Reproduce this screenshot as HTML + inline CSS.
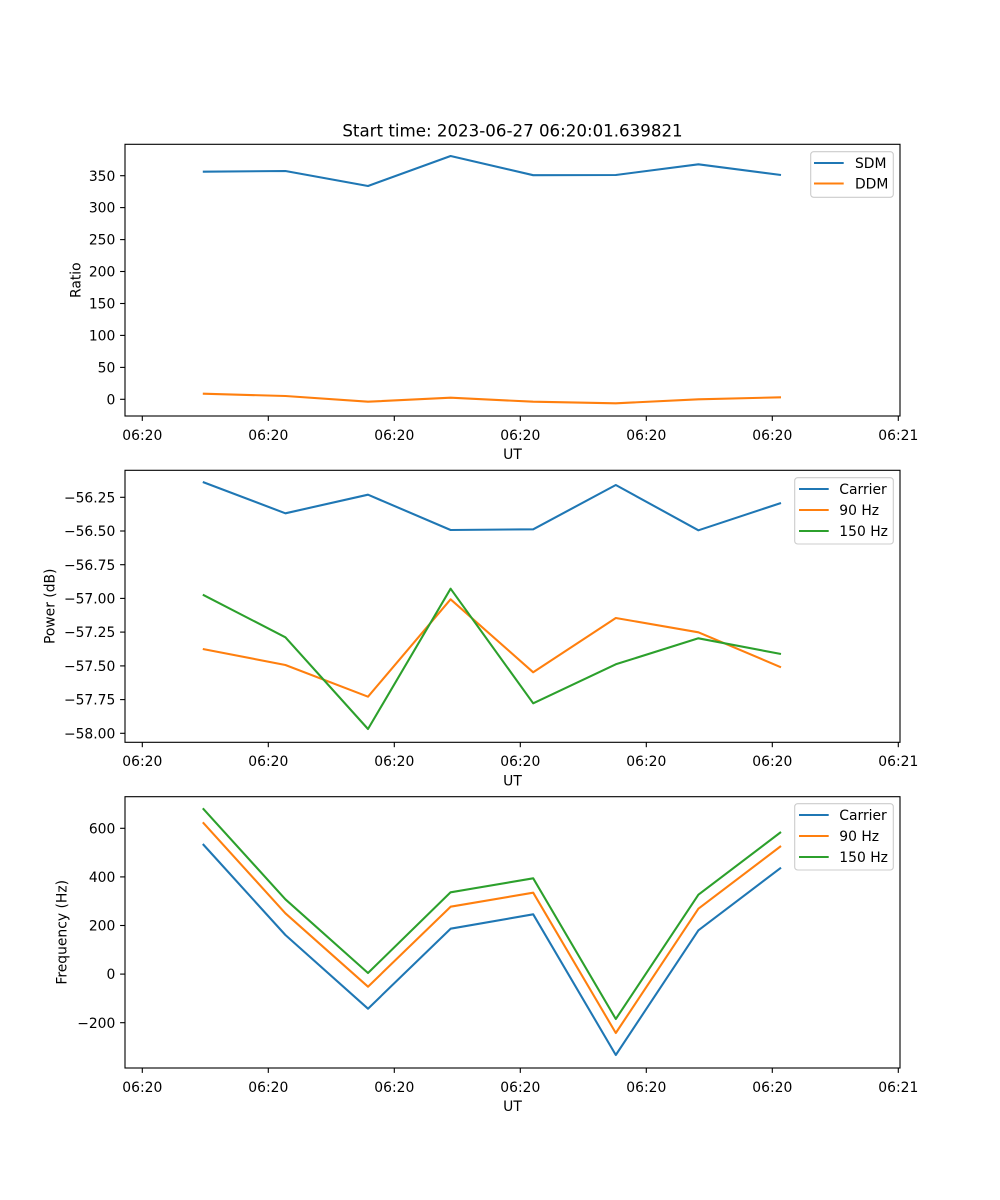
<!DOCTYPE html>
<html><head><meta charset="utf-8"><style>
html,body{margin:0;padding:0;background:#fff;}
svg{display:block;}
text{font-family:"DejaVu Sans","Liberation Sans",sans-serif;fill:#000;}
</style></head><body>
<svg width="1000" height="1200" viewBox="0 0 1000 1200" xmlns="http://www.w3.org/2000/svg">
<rect width="1000" height="1200" fill="#fff"/>
<text x="512.5" y="136.7" font-size="16.67" text-anchor="middle">Start time: 2023-06-27 06:20:01.639821</text>

<!-- ========== Panel 1 ========== -->
<g>
<polyline fill="none" stroke="#1f77b4" stroke-width="2.08" stroke-linejoin="round" points="202.8,171.7 285.4,171 368,186 450.6,156 533.2,175.2 615.8,175 698.4,164.3 781,175"/>
<polyline fill="none" stroke="#ff7f0e" stroke-width="2.08" stroke-linejoin="round" points="202.8,393.7 285.4,396 368,401.7 450.6,397.7 533.2,401.7 615.8,403.3 698.4,399.3 781,397.3"/>
<rect x="125" y="144.3" width="775" height="271.7" fill="none" stroke="#000" stroke-width="1.11"/>
<g stroke="#000" stroke-width="1.11">
<line x1="142.3" y1="416" x2="142.3" y2="420.9"/><line x1="268.3" y1="416" x2="268.3" y2="420.9"/><line x1="394.3" y1="416" x2="394.3" y2="420.9"/><line x1="520.3" y1="416" x2="520.3" y2="420.9"/><line x1="646.3" y1="416" x2="646.3" y2="420.9"/><line x1="772.3" y1="416" x2="772.3" y2="420.9"/><line x1="898.3" y1="416" x2="898.3" y2="420.9"/>
<line x1="120.1" y1="399.3" x2="125" y2="399.3"/><line x1="120.1" y1="367.4" x2="125" y2="367.4"/><line x1="120.1" y1="335.4" x2="125" y2="335.4"/><line x1="120.1" y1="303.5" x2="125" y2="303.5"/><line x1="120.1" y1="271.5" x2="125" y2="271.5"/><line x1="120.1" y1="239.6" x2="125" y2="239.6"/><line x1="120.1" y1="207.6" x2="125" y2="207.6"/><line x1="120.1" y1="175.7" x2="125" y2="175.7"/>
</g>
<g font-size="13.89" text-anchor="middle">
<text x="142.3" y="439.8">06:20</text><text x="268.3" y="439.8">06:20</text><text x="394.3" y="439.8">06:20</text><text x="520.3" y="439.8">06:20</text><text x="646.3" y="439.8">06:20</text><text x="772.3" y="439.8">06:20</text><text x="898.3" y="439.8">06:21</text>
<text x="512.5" y="459.2">UT</text>
</g>
<g font-size="13.89" text-anchor="end">
<text x="115.3" y="404.4">0</text><text x="115.3" y="372.5">50</text><text x="115.3" y="340.5">100</text><text x="115.3" y="308.6">150</text><text x="115.3" y="276.6">200</text><text x="115.3" y="244.7">250</text><text x="115.3" y="212.7">300</text><text x="115.3" y="180.8">350</text>
</g>
<text font-size="13.89" text-anchor="middle" transform="translate(80.7,280.2) rotate(-90)">Ratio</text>
<rect x="810.7" y="151.7" width="82.6" height="45.6" rx="3" fill="#fff" fill-opacity="0.8" stroke="#cccccc" stroke-width="1.11"/>
<line x1="814" y1="163" x2="843.7" y2="163" stroke="#1f77b4" stroke-width="2.08"/>
<line x1="814" y1="183.5" x2="843.7" y2="183.5" stroke="#ff7f0e" stroke-width="2.08"/>
<text x="855" y="168.1" font-size="13.89">SDM</text>
<text x="855" y="188.6" font-size="13.89">DDM</text>
</g>

<!-- ========== Panel 2 ========== -->
<g>
<polyline fill="none" stroke="#1f77b4" stroke-width="2.08" stroke-linejoin="round" points="202.8,482 285.4,513.3 368,494.7 450.6,530 533.2,529.3 615.8,485 698.4,530.3 781,503"/>
<polyline fill="none" stroke="#ff7f0e" stroke-width="2.08" stroke-linejoin="round" points="202.8,649 285.4,665 368,696.7 450.6,599.3 533.2,672.3 615.8,618 698.4,632.3 781,667.3"/>
<polyline fill="none" stroke="#2ca02c" stroke-width="2.08" stroke-linejoin="round" points="202.8,594.7 285.4,637.3 368,729 450.6,588.7 533.2,703.3 615.8,664.3 698.4,638.3 781,654"/>
<rect x="125" y="470.3" width="775" height="272" fill="none" stroke="#000" stroke-width="1.11"/>
<g stroke="#000" stroke-width="1.11">
<line x1="142.3" y1="742.3" x2="142.3" y2="747.2"/><line x1="268.3" y1="742.3" x2="268.3" y2="747.2"/><line x1="394.3" y1="742.3" x2="394.3" y2="747.2"/><line x1="520.3" y1="742.3" x2="520.3" y2="747.2"/><line x1="646.3" y1="742.3" x2="646.3" y2="747.2"/><line x1="772.3" y1="742.3" x2="772.3" y2="747.2"/><line x1="898.3" y1="742.3" x2="898.3" y2="747.2"/>
<line x1="120.1" y1="497.3" x2="125" y2="497.3"/><line x1="120.1" y1="531" x2="125" y2="531"/><line x1="120.1" y1="564.7" x2="125" y2="564.7"/><line x1="120.1" y1="598.4" x2="125" y2="598.4"/><line x1="120.1" y1="632.1" x2="125" y2="632.1"/><line x1="120.1" y1="665.9" x2="125" y2="665.9"/><line x1="120.1" y1="699.6" x2="125" y2="699.6"/><line x1="120.1" y1="733.3" x2="125" y2="733.3"/>
</g>
<g font-size="13.89" text-anchor="middle">
<text x="142.3" y="766.2">06:20</text><text x="268.3" y="766.2">06:20</text><text x="394.3" y="766.2">06:20</text><text x="520.3" y="766.2">06:20</text><text x="646.3" y="766.2">06:20</text><text x="772.3" y="766.2">06:20</text><text x="898.3" y="766.2">06:21</text>
<text x="512.5" y="785.5">UT</text>
</g>
<g font-size="13.89" text-anchor="end">
<text x="115.3" y="502.4">−56.25</text><text x="115.3" y="536.1">−56.50</text><text x="115.3" y="569.8">−56.75</text><text x="115.3" y="603.5">−57.00</text><text x="115.3" y="637.2">−57.25</text><text x="115.3" y="671">−57.50</text><text x="115.3" y="704.7">−57.75</text><text x="115.3" y="738.4">−58.00</text>
</g>
<text font-size="13.89" text-anchor="middle" transform="translate(54.5,606.3) rotate(-90)">Power (dB)</text>
<rect x="794.7" y="477.7" width="98.6" height="66.3" rx="3" fill="#fff" fill-opacity="0.8" stroke="#cccccc" stroke-width="1.11"/>
<line x1="799" y1="489" x2="828.7" y2="489" stroke="#1f77b4" stroke-width="2.08"/>
<line x1="799" y1="510" x2="828.7" y2="510" stroke="#ff7f0e" stroke-width="2.08"/>
<line x1="799" y1="531" x2="828.7" y2="531" stroke="#2ca02c" stroke-width="2.08"/>
<text x="839.3" y="494.1" font-size="13.89">Carrier</text>
<text x="839.3" y="515.1" font-size="13.89">90 Hz</text>
<text x="839.3" y="536.1" font-size="13.89">150 Hz</text>
</g>

<!-- ========== Panel 3 ========== -->
<g>
<polyline fill="none" stroke="#1f77b4" stroke-width="2.08" stroke-linejoin="round" points="202.8,844 285.4,935 368,1008.7 450.6,928.7 533.2,914.3 615.8,1055 698.4,930.3 781,867.7"/>
<polyline fill="none" stroke="#ff7f0e" stroke-width="2.08" stroke-linejoin="round" points="202.8,822.3 285.4,913.3 368,986.7 450.6,906.7 533.2,892.7 615.8,1033 698.4,908.7 781,846"/>
<polyline fill="none" stroke="#2ca02c" stroke-width="2.08" stroke-linejoin="round" points="202.8,808.3 285.4,899.3 368,973 450.6,892.3 533.2,878.3 615.8,1019 698.4,894.7 781,832"/>
<rect x="125" y="796.7" width="775" height="271.3" fill="none" stroke="#000" stroke-width="1.11"/>
<g stroke="#000" stroke-width="1.11">
<line x1="142.3" y1="1068" x2="142.3" y2="1072.9"/><line x1="268.3" y1="1068" x2="268.3" y2="1072.9"/><line x1="394.3" y1="1068" x2="394.3" y2="1072.9"/><line x1="520.3" y1="1068" x2="520.3" y2="1072.9"/><line x1="646.3" y1="1068" x2="646.3" y2="1072.9"/><line x1="772.3" y1="1068" x2="772.3" y2="1072.9"/><line x1="898.3" y1="1068" x2="898.3" y2="1072.9"/>
<line x1="120.1" y1="828.3" x2="125" y2="828.3"/><line x1="120.1" y1="876.9" x2="125" y2="876.9"/><line x1="120.1" y1="925.5" x2="125" y2="925.5"/><line x1="120.1" y1="974.1" x2="125" y2="974.1"/><line x1="120.1" y1="1022.7" x2="125" y2="1022.7"/>
</g>
<g font-size="13.89" text-anchor="middle">
<text x="142.3" y="1091.8">06:20</text><text x="268.3" y="1091.8">06:20</text><text x="394.3" y="1091.8">06:20</text><text x="520.3" y="1091.8">06:20</text><text x="646.3" y="1091.8">06:20</text><text x="772.3" y="1091.8">06:20</text><text x="898.3" y="1091.8">06:21</text>
<text x="512.5" y="1111.2">UT</text>
</g>
<g font-size="13.89" text-anchor="end">
<text x="115.3" y="833.4">600</text><text x="115.3" y="882">400</text><text x="115.3" y="930.6">200</text><text x="115.3" y="979.2">0</text><text x="115.3" y="1027.8">−200</text>
</g>
<text font-size="13.89" text-anchor="middle" transform="translate(66.5,932.3) rotate(-90)">Frequency (Hz)</text>
<rect x="794.7" y="803.7" width="98.6" height="66.3" rx="3" fill="#fff" fill-opacity="0.8" stroke="#cccccc" stroke-width="1.11"/>
<line x1="799" y1="815" x2="828.7" y2="815" stroke="#1f77b4" stroke-width="2.08"/>
<line x1="799" y1="836" x2="828.7" y2="836" stroke="#ff7f0e" stroke-width="2.08"/>
<line x1="799" y1="857" x2="828.7" y2="857" stroke="#2ca02c" stroke-width="2.08"/>
<text x="839.3" y="820.1" font-size="13.89">Carrier</text>
<text x="839.3" y="841.1" font-size="13.89">90 Hz</text>
<text x="839.3" y="862.1" font-size="13.89">150 Hz</text>
</g>
</svg>
</body></html>
